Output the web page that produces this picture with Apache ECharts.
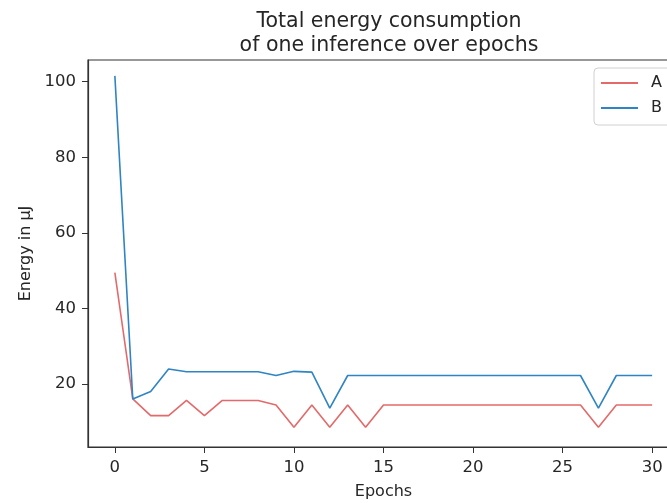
<!DOCTYPE html>
<html>
<head>
<meta charset="utf-8">
<script src="https://cdn.jsdelivr.net/npm/echarts@6/dist/echarts.min.js"></script>
<style>
  html, body { margin: 0; padding: 0; background: #fff; }
  #main { width: 667px; height: 503px; }
</style>
</head>
<body>
<div id="main"></div>
<script>
// epochs 0..30
var epochs = [0, 1, 2, 3, 4, 5, 6, 7, 8, 9, 10, 11, 12, 13, 14, 15, 16, 17, 18, 19, 20, 21, 22, 23, 24, 25, 26, 27, 28, 29, 30];
var seriesA = [49.5, 16.1, 11.7, 11.7, 15.7, 11.7, 15.7, 15.7, 15.7, 14.5, 8.6, 14.5, 8.6, 14.5, 8.6, 14.5, 14.5, 14.5, 14.5, 14.5, 14.5, 14.5, 14.5, 14.5, 14.5, 14.5, 14.5, 8.6, 14.5, 14.5, 14.5];
var seriesB = [101.5, 16.1, 18.1, 24.0, 23.3, 23.3, 23.3, 23.3, 23.3, 22.3, 23.4, 23.2, 13.7, 22.3, 22.3, 22.3, 22.3, 22.3, 22.3, 22.3, 22.3, 22.3, 22.3, 22.3, 22.3, 22.3, 22.3, 13.7, 22.3, 22.3, 22.3];
var xTicks = [0, 5, 10, 15, 20, 25, 30];
var yTicks = [20, 40, 60, 80, 100];

var font = 'DejaVu Sans';
var ink = '#262626';

function pairs(ys) {
  return epochs.map(function (e, i) { return [e, ys[i]]; });
}

var chart = echarts.init(document.getElementById('main'));
chart.setOption({
  animation: false,
  title: {
    text: 'Total energy consumption\nof one inference over epochs',
    left: 384,
    textAlign: 'center',
    top: 5,
    textStyle: { fontFamily: font, fontSize: 20.5, fontWeight: 'normal', color: ink, lineHeight: 24 }
  },
  legend: {
    left: 594,
    top: 68,
    orient: 'vertical',
    data: ['A', 'B'],
    icon: 'rect',
    itemWidth: 37,
    itemHeight: 2,
    itemGap: 9,
    padding: [7, 10, 9, 7],
    borderColor: '#d0d0d0',
    borderWidth: 1,
    borderRadius: 4,
    textStyle: { fontFamily: font, fontSize: 16, color: ink, padding: [0, 0, 0, 8] }
  },
  grid: {
    left: 88, top: 60, width: 591, height: 387,
    outerBoundsMode: 'none',
    containLabel: false,
    show: true, borderColor: '#333', borderWidth: 1.2, backgroundColor: 'transparent'
  },
  xAxis: {
    type: 'value',
    min: -1.5, max: 31.5,
    name: 'Epochs',
    nameLocation: 'middle',
    nameGap: 37,
    nameTextStyle: { fontFamily: font, fontSize: 16, color: ink },
    splitLine: { show: false },
    axisLine: { show: true, onZero: false, lineStyle: { color: '#333', width: 1.2 } },
    axisTick: { show: true, length: 6, lineStyle: { color: '#333' }, customValues: xTicks },
    axisLabel: { margin: 12, fontFamily: font, fontSize: 16.5, color: ink, customValues: xTicks }
  },
  yAxis: {
    type: 'value',
    min: 3.4, max: 105.7,
    name: 'Energy in μJ',
    nameLocation: 'middle',
    nameGap: 54,
    nameRotate: 90,
    nameTextStyle: { fontFamily: font, fontSize: 16, color: ink },
    splitLine: { show: false },
    axisLine: { show: true, onZero: false, lineStyle: { color: '#333', width: 1.2 } },
    axisTick: { show: true, length: 6, lineStyle: { color: '#333' }, customValues: yTicks },
    axisLabel: { margin: 12, fontFamily: font, fontSize: 16.5, color: ink, customValues: yTicks }
  },
  series: [
    {
      name: 'A', type: 'line', data: pairs(seriesA), symbol: 'none',
      lineStyle: { color: '#e36a6a', width: 1.6 }, itemStyle: { color: '#e36a6a' }
    },
    {
      name: 'B', type: 'line', data: pairs(seriesB), symbol: 'none',
      lineStyle: { color: '#2f84c3', width: 1.6 }, itemStyle: { color: '#2f84c3' }
    }
  ]
});
</script>
</body>
</html>
